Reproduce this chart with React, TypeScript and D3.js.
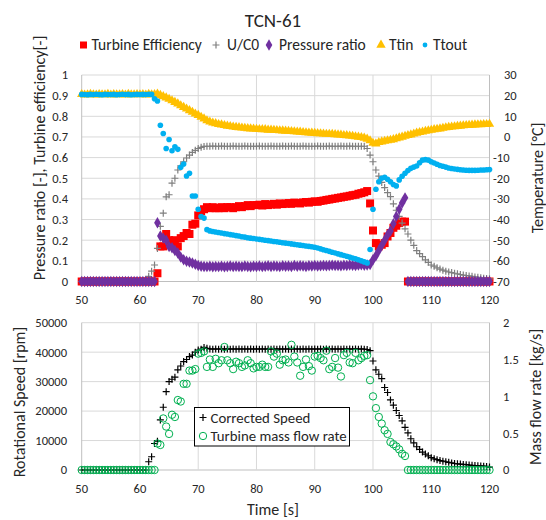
import React from "react";
import * as d3 from "d3";

// sample grid: every 0.5 s from 50 s to 120 s (141 samples)
const time: number[] = d3.range(141).map((i) => 50 + i * 0.5);

const efficiency: number[] = [
  0, 0, 0, 0, 0, 0, 0, 0, 0, 0, 0, 0, 0, 0, 0, 0, 0, 0, 0, 0,
  0, 0, 0, 0, 0, 0, 0.04, 0.17, 0.17, 0.23, 0.2, 0.18, 0.2, 0.17, 0.21, 0.22, 0.235, 0.23, 0.275, 0.28,
  0.32, 0.34, 0.35, 0.36, 0.355, 0.36, 0.355, 0.355, 0.36, 0.355, 0.36, 0.36, 0.355, 0.36, 0.365, 0.36, 0.365, 0.37, 0.365, 0.37,
  0.37, 0.372, 0.368, 0.375, 0.37, 0.373, 0.376, 0.372, 0.378, 0.375, 0.377, 0.38, 0.376, 0.382, 0.38, 0.378, 0.383, 0.385, 0.382, 0.386,
  0.388, 0.386, 0.39, 0.392, 0.395, 0.397, 0.4, 0.402, 0.405, 0.407, 0.41, 0.412, 0.415, 0.418, 0.42, 0.425, 0.428, 0.432, 0.438, 0.378,
  0.247, 0.186, 0.17, 0.178, 0.186, 0.218, 0.235, 0.26, 0.27, 0.283, 0.29, 0.29, 0, 0, 0, 0, 0, 0, 0, 0,
  0, 0, 0, 0, 0, 0, 0, 0, 0, 0, 0, 0, 0, 0, 0, 0, 0, 0, 0, 0,
  0,
];

const uc0: number[] = [
  0, 0, 0, 0, 0, 0, 0, 0, 0, 0, 0, 0, 0, 0, 0, 0, 0, 0, 0, 0,
  0, 0, 0, 0.025, 0.05, 0.08, 0.16, 0.267, 0.331, 0.41, 0.42, 0.476, 0.5, 0.54, 0.56, 0.58, 0.598, 0.612, 0.625, 0.635,
  0.644, 0.65, 0.654, 0.655, 0.655, 0.656, 0.655, 0.655, 0.656, 0.655, 0.655, 0.655, 0.656, 0.655, 0.655, 0.655, 0.656, 0.655, 0.655, 0.655,
  0.655, 0.656, 0.655, 0.655, 0.655, 0.656, 0.655, 0.655, 0.655, 0.656, 0.655, 0.655, 0.656, 0.655, 0.655, 0.655, 0.656, 0.655, 0.655, 0.655,
  0.655, 0.656, 0.655, 0.655, 0.655, 0.656, 0.655, 0.655, 0.655, 0.656, 0.655, 0.655, 0.656, 0.655, 0.655, 0.655, 0.655, 0.655, 0.644, 0.612,
  0.58, 0.54, 0.51, 0.48, 0.455, 0.43, 0.411, 0.376, 0.345, 0.315, 0.283, 0.255, 0.23, 0.2, 0.175, 0.15, 0.135, 0.12, 0.105, 0.093,
  0.08, 0.074, 0.066, 0.06, 0.055, 0.05, 0.046, 0.043, 0.04, 0.037, 0.034, 0.031, 0.029, 0.027, 0.025, 0.022, 0.02, 0.018, 0.016, 0.014,
  0.013,
];

const pressureRatio: number[] = [
  0, 0, 0, 0, 0, 0, 0, 0, 0, 0, 0, 0, 0, 0, 0, 0, 0, 0, 0, 0,
  0, 0, 0, 0, 0, 0, 0.285, 0.22, 0.21, 0.2, 0.17, 0.163, 0.15, 0.138, 0.118, 0.105, 0.098, 0.094, 0.09, 0.083,
  0.078, 0.074, 0.073, 0.072, 0.074, 0.071, 0.073, 0.072, 0.074, 0.071, 0.073, 0.075, 0.072, 0.074, 0.073, 0.072, 0.075, 0.073, 0.071, 0.074,
  0.073, 0.075, 0.072, 0.074, 0.076, 0.073, 0.075, 0.074, 0.072, 0.076, 0.074, 0.075, 0.073, 0.077, 0.074, 0.076, 0.075, 0.073, 0.076, 0.075,
  0.077, 0.075, 0.076, 0.078, 0.076, 0.077, 0.079, 0.077, 0.078, 0.076, 0.079, 0.078, 0.08, 0.079, 0.078, 0.08, 0.081, 0.079, 0.08, 0.082,
  0.105, 0.125, 0.15, 0.175, 0.2, 0.225, 0.245, 0.28, 0.315, 0.35, 0.38, 0.405, 0, 0, 0, 0, 0, 0, 0, 0,
  0, 0, 0, 0, 0, 0, 0, 0, 0, 0, 0, 0, 0, 0, 0, 0, 0, 0, 0, 0,
  0,
];

const ttin: number[] = [
  20.6, 20.4, 20.5, 20.7, 20.5, 20.4, 20.6, 20.5, 20.5, 20.7, 20.4, 20.6, 20.5, 20.5, 20.6, 20.4, 20.7, 20.5, 20.5, 20.6,
  20.5, 20.6, 20.4, 20.7, 20.5, 20.6, 20.8, 20.2, 19.6, 19, 18.3, 17.6, 16.8, 16.1, 15.2, 14.4, 13.6, 12.8, 12, 11.2,
  10.5, 9.6, 8.8, 7.9, 7.3, 6.8, 6.5, 6.1, 5.9, 5.6, 5.3, 5.1, 4.9, 4.7, 4.6, 4.4, 4.3, 4.1, 4, 3.9,
  3.8, 3.7, 3.6, 3.6, 3.4, 3.4, 3.3, 3.2, 3.1, 3, 2.9, 2.8, 2.7, 2.6, 2.5, 2.4, 2.2, 2.1, 2, 1.9,
  1.8, 1.7, 1.6, 1.5, 1.4, 1.4, 1.3, 1.2, 1.1, 1, 0.8, 0.7, 0.5, 0.4, 0.2, 0, -0.2, -0.5, -1, -1.8,
  -3, -3.3, -2.6, -2.3, -2, -1.8, -1.5, -1.2, -0.8, -0.4, 0, 0.4, 0.8, 1.1, 1.5, 1.9, 2.2, 2.5, 2.8, 3.1,
  3.3, 3.6, 3.8, 4, 4.3, 4.5, 4.7, 4.9, 5, 5.2, 5.3, 5.5, 5.6, 5.7, 5.8, 5.9, 6, 6, 6.1, 6.1,
  6.2,
];

const ttout: number[] = [
  20.6, 20.5, 20.4, 20.6, 20.5, 20.7, 20.5, 20.4, 20.6, 20.5, 20.5, 20.6, 20.4, 20.5, 20.7, 20.5, 20.6, 20.4, 20.5, 20.6,
  20.5, 20.6, 20.5, 20.7, 20.6, 18.5, 17.4, 5.7, 1.7, -5.6, -1.2, -6.7, -4.8, -6, -14.7, -13.1, -18.9, -17.6, -28.6, -28.6,
  -35, -38.5, -39.3, -44.9, -45.5, -45.8, -46, -46.3, -46.5, -46.8, -47, -47.3, -47.5, -47.8, -48, -48.3, -48.5, -48.8, -49, -49.2,
  -49.4, -49.6, -49.8, -50, -50.2, -50.4, -50.6, -50.8, -51, -51.2, -51.4, -51.6, -51.8, -52, -52.2, -52.4, -52.6, -52.8, -53, -53.2,
  -53.4, -53.8, -54.2, -54.6, -55, -55.4, -55.8, -56.2, -56.6, -57, -57.4, -57.8, -58.2, -58.6, -59, -59.5, -60, -60.5, -61, -54.5,
  -35, -25.3, -21.7, -20, -19.5, -20.5, -21.7, -23, -23.7, -20.8, -19, -17.6, -16.3, -15.2, -14.6, -14.1, -12.5, -11.2, -11, -11.2,
  -12, -12.6, -13.2, -13.8, -14.2, -14.6, -15, -15.3, -15.5, -15.7, -15.9, -16, -16.1, -16.2, -16.2, -16.2, -16.1, -16, -16, -15.9,
  -15.8,
];

const correctedSpeed: number[] = [
  0, 0, 0, 0, 0, 0, 0, 0, 0, 0, 0, 0, 0, 0, 0, 0, 0, 0, 0, 0,
  0, 0, 0, 2800, 4500, 9000, 9800, 17000, 21300, 26600, 30000, 30800, 31500, 34000, 35300, 36800, 37500, 38500, 39000, 40000,
  40700, 41000, 41600, 41300, 41100, 41000, 41100, 41000, 41100, 41000, 41100, 41000, 41100, 41000, 41100, 41000, 41100, 41000, 41100, 41000,
  41100, 41000, 41100, 41000, 41100, 41000, 41100, 41000, 41100, 41000, 41100, 41000, 41100, 41000, 41100, 41000, 41100, 41000, 41100, 41000,
  41100, 41000, 41100, 41000, 41100, 41000, 41100, 41000, 41100, 41000, 41100, 41000, 41100, 41000, 41100, 41000, 41100, 41000, 40900, 40500,
  37000, 34000, 32500, 31000, 28000, 26300, 23800, 22000, 20200, 18500, 16700, 14500, 12600, 10600, 9200, 7900, 7000, 6100, 5400, 4800,
  4200, 3800, 3500, 3200, 3000, 2800, 2600, 2400, 2200, 2100, 2000, 1900, 1800, 1700, 1600, 1500, 1450, 1400, 1300, 1200,
  1000,
];

const massFlow: number[] = [
  0, 0, 0, 0, 0, 0, 0, 0, 0, 0, 0, 0, 0, 0, 0, 0, 0, 0, 0, 0,
  0, 0, 0, 0, 0, 0, 0.36, 0.34, 0.7, 0.59, 0.49, 0.75, 0.72, 0.95, 0.93, 1.17, 1.17, 1.35, 1.35, 1.37,
  1.58, 1.59, 1.61, 1.4, 1.5, 1.4, 1.51, 1.45, 1.49, 1.67, 1.49, 1.45, 1.37, 1.47, 1.45, 1.4, 1.42, 1.49, 1.45, 1.38,
  1.4, 1.4, 1.43, 1.4, 1.4, 1.61, 1.54, 1.58, 1.43, 1.49, 1.5, 1.46, 1.7, 1.54, 1.46, 1.28, 1.4, 1.5, 1.41, 1.35,
  1.54, 1.55, 1.52, 1.49, 1.62, 1.37, 1.4, 1.52, 1.39, 1.27, 1.56, 1.59, 1.46, 1.45, 1.59, 1.49, 1.52, 1.55, 1.56, 1.22,
  1.0, 0.84, 0.72, 0.63, 0.54, 0.49, 0.38, 0.35, 0.32, 0.28, 0.22, 0.19, 0, 0, 0, 0, 0, 0, 0, 0,
  0, 0, 0, 0, 0, 0, 0, 0, 0, 0, 0, 0, 0, 0, 0, 0, 0, 0, 0, 0,
  0,
];

const xTicks = [50, 60, 70, 80, 90, 100, 110, 120];
const leftTicksTop = [0, 0.1, 0.2, 0.3, 0.4, 0.5, 0.6, 0.7, 0.8, 0.9, 1];
const rightTicksTop = [-70, -60, -50, -40, -30, -20, -10, 0, 10, 20, 30];
const leftTicksBottom = [0, 10000, 20000, 30000, 40000, 50000];
const rightTicksBottom = [0, 0.5, 1, 1.5, 2];

const topLegend = ["Turbine Efficiency", "U/C0", "Pressure ratio", "Ttin", "Ttout"];
const bottomLegend = ["Corrected Speed", "Turbine mass flow rate"];

const FONT = "Carlito, Calibri, Lato, sans-serif";
const TXT = "#262626";
const GRID = "#d9d9d9";
const RED = "#ff0000";
const GRAY = "#7f7f7f";
const PURPLE = "#7030a0";
const GOLD = "#ffc000";
const BLUE = "#00b0f0";
const GREEN = "#00b050";

const TICK_FS = 12.5;
const TITLE_FS = 16;
const LEG_FS = 15.5;
const BOX_FS = 14.8;

const squarePath = d3.symbol(d3.symbolSquare, 64)() as string;
const diamondPath = d3.symbol(d3.symbolDiamond, 38)() as string;
const trianglePath = d3.symbol(d3.symbolTriangle, 38)() as string;
const plus = (s: number) => `M${-s},0H${s}M0,${-s}V${s}`;

export default function App() {
  const x = d3.scaleLinear().domain([50, 120]).range([81.7, 489.5]);
  const yL = d3.scaleLinear().domain([0, 1]).range([281.5, 75]);
  const yR = d3.scaleLinear().domain([-70, 30]).range([281.5, 75]);
  const yS = d3.scaleLinear().domain([0, 50000]).range([470, 322.7]);
  const yM = d3.scaleLinear().domain([0, 2]).range([470, 322.7]);

  const [x0, x1] = x.range();

  return (
    <svg
      width={546}
      height={520}
      style={{ position: "absolute", left: 0, top: 0, background: "#fff" }}
      fontFamily={FONT}
    >
      <rect x={0} y={0} width={546} height={520} fill="#fff" />
      {/* ===== TOP PANEL ===== */}
      <text x={273} y={20} dy="0.35em" textAnchor="middle" fontSize={19} fill={TXT}>TCN-61</text>

      {leftTicksTop.map((v) => (
        <line key={"gh" + v} x1={x0} x2={x1} y1={yL(v)} y2={yL(v)} stroke={v === 0 ? "#bfbfbf" : GRID} />
      ))}
      {xTicks.map((t) => (
        <line key={"gv" + t} x1={x(t)} x2={x(t)} y1={yL(1)} y2={yL(0)} stroke={t === 50 || t === 120 ? "#bfbfbf" : GRID} />
      ))}

      {leftTicksTop.map((v) => (
        <text key={"lt" + v} x={68} y={yL(v)} dy="0.35em" textAnchor="end" fontSize={TICK_FS} fill={TXT}>{String(v)}</text>
      ))}
      {rightTicksTop.map((v) => (
        <text key={"rt" + v} x={v < 0 ? 493 : 504} y={yR(v)} dy="0.35em" textAnchor="start" fontSize={TICK_FS} fill={TXT}>{v < 0 ? "-" + Math.abs(v) : String(v)}</text>
      ))}
      {xTicks.map((t) => (
        <text key={"xt" + t} x={x(t)} y={300} dy="0.35em" textAnchor="middle" fontSize={TICK_FS} fill={TXT}>{t}</text>
      ))}

      <text transform="translate(39,158) rotate(-90)" textAnchor="middle" dy="0.35em" fontSize={TITLE_FS} fill={TXT}>
        Pressure ratio [-], Turbine efficiency[-]
      </text>
      <text transform="translate(537,178) rotate(-90)" textAnchor="middle" dy="0.35em" fontSize={TITLE_FS} fill={TXT}>
        Temperature [°C]
      </text>

      <g fill={RED}>
        {time.map((t, i) => (
          <path key={"ef" + i} d={squarePath} transform={`translate(${x(t)},${yL(efficiency[i])})`} />
        ))}
      </g>
      <g stroke={GRAY} strokeWidth={1.2} fill="none">
        {time.map((t, i) => (
          <path key={"uc" + i} d={plus(3.5)} transform={`translate(${x(t)},${yL(uc0[i])})`} />
        ))}
      </g>
      <g fill={PURPLE}>
        {time.map((t, i) => (
          <path key={"pr" + i} d={diamondPath} transform={`translate(${x(t)},${yL(pressureRatio[i])})`} />
        ))}
      </g>
      <g fill={GOLD}>
        {time.map((t, i) => (
          <path key={"ti" + i} d={trianglePath} transform={`translate(${x(t)},${yR(ttin[i])})`} />
        ))}
      </g>
      <g fill={BLUE}>
        {time.map((t, i) => (
          <circle key={"to" + i} cx={x(t)} cy={yR(ttout[i])} r={2.8} />
        ))}
      </g>

      <g fontSize={LEG_FS} fill={TXT}>
        <rect x={80} y={41.5} width={7} height={7} fill={RED} />
        <text x={91.5} y={45} dy="0.35em">{topLegend[0]}</text>
        <path d={plus(3.5)} transform="translate(216,45)" stroke={GRAY} strokeWidth={1.2} />
        <text x={227} y={45} dy="0.35em">{topLegend[1]}</text>
        <path d={diamondPath} transform="translate(269,45)" fill={PURPLE} />
        <text x={279} y={45} dy="0.35em">{topLegend[2]}</text>
        <path d={trianglePath} transform="translate(381,45)" fill={GOLD} />
        <text x={389} y={45} dy="0.35em">{topLegend[3]}</text>
        <circle cx={425} cy={45} r={2.4} fill={BLUE} />
        <text x={433} y={45} dy="0.35em">{topLegend[4]}</text>
      </g>

      {/* ===== BOTTOM PANEL ===== */}
      {leftTicksBottom.map((v) => (
        <line key={"bgh" + v} x1={x0} x2={x1} y1={yS(v)} y2={yS(v)} stroke={v === 0 ? "#bfbfbf" : GRID} />
      ))}
      {xTicks.map((t) => (
        <line key={"bgv" + t} x1={x(t)} x2={x(t)} y1={yS(50000)} y2={yS(0)} stroke={t === 50 || t === 120 ? "#bfbfbf" : GRID} />
      ))}
      {leftTicksBottom.map((v) => (
        <text key={"blt" + v} x={67} y={yS(v)} dy="0.35em" textAnchor="end" fontSize={TICK_FS} fill={TXT}>{v}</text>
      ))}
      {rightTicksBottom.map((v) => (
        <text key={"brt" + v} x={503} y={yM(v)} dy="0.35em" textAnchor="start" fontSize={TICK_FS} fill={TXT}>{v}</text>
      ))}
      {xTicks.map((t) => (
        <text key={"bxt" + t} x={x(t)} y={489} dy="0.35em" textAnchor="middle" fontSize={TICK_FS} fill={TXT}>{t}</text>
      ))}
      <text x={273} y={509} dy="0.35em" textAnchor="middle" fontSize={TITLE_FS} fill={TXT}>Time [s]</text>
      <text transform="translate(19,402) rotate(-90)" textAnchor="middle" dy="0.35em" fontSize={TITLE_FS} fill={TXT}>
        Rotational Speed [rpm]
      </text>
      <text transform="translate(535.5,397) rotate(-90)" textAnchor="middle" dy="0.35em" fontSize={TITLE_FS} fill={TXT}>
        Mass flow rate [kg/s]
      </text>

      <g stroke="#000" strokeWidth={1.2} fill="none">
        {time.map((t, i) => (
          <path key={"cs" + i} d={plus(3.5)} transform={`translate(${x(t)},${yS(correctedSpeed[i])})`} />
        ))}
      </g>
      <g stroke={GREEN} strokeWidth={1} fill="none">
        {time.map((t, i) => (
          <circle key={"mf" + i} cx={x(t)} cy={yM(massFlow[i])} r={3.7} />
        ))}
      </g>

      <rect x={194.5} y={407.5} width={155} height={38.5} fill="#fff" stroke="#000" strokeWidth={1} />
      <path d={plus(3.5)} transform="translate(203,417.5)" stroke="#000" strokeWidth={1.2} />
      <text x={210.5} y={417.5} dy="0.35em" fontSize={BOX_FS} fill={TXT}>{bottomLegend[0]}</text>
      <circle cx={203} cy={436} r={3.7} fill="none" stroke={GREEN} strokeWidth={1} />
      <text x={210.5} y={436} dy="0.35em" fontSize={BOX_FS} fill={TXT}>{bottomLegend[1]}</text>
    </svg>
  );
}
